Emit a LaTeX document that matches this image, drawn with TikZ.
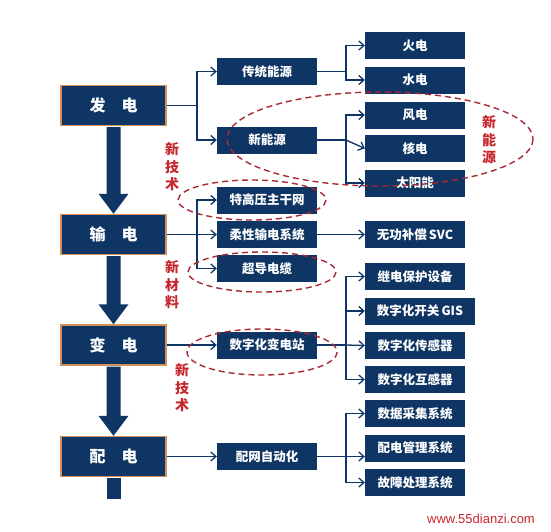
\documentclass[tikz,border=0pt]{standalone}
\usepackage{fontspec}
\newfontfamily\cjk{Noto Sans CJK SC}
\newfontfamily\markfont{Liberation Sans}
\usetikzlibrary{arrows.meta,positioning,calc}
\definecolor{gridNavy}{HTML}{0E3564}
\definecolor{gridEdge}{HTML}{D2915A}
\definecolor{gridRed}{HTML}{C8262C}
\definecolor{gridDash}{HTML}{A82A34}
\tikzset{
  % The four stages on the left, with the orange rim.
  grid/stage/.style={
    fill=gridNavy, draw=gridEdge, line width=1.4pt, inner sep=0pt,
    minimum width=105pt, minimum height=40pt, text=white,
    font=\cjk\bfseries\fontsize{16}{16}\selectfont
  },
  % Plain dark boxes for the parts of each stage.
  grid/box/.style={
    fill=gridNavy, inner sep=0pt, minimum width=100pt, minimum height=27pt,
    text=white, font=\cjk\bfseries\fontsize{12.5}{12.5}\selectfont
  },
  % Thin branch arrows.
  grid/arrow/.style={
    -{Straight Barb[length=5pt,width=9pt]}, draw=gridNavy, line width=1.3pt
  },
  % Red dashed rings round what is new.
  grid/ring/.style={
    draw=gridDash, dash pattern=on 6pt off 4pt, line width=1.4pt
  },
  % Red vertical tags.
  grid/tag/.style={
    text=gridRed, inner sep=0pt, align=center,
    font=\cjk\bfseries\fontsize{14}{17.5}\selectfont
  },
}
\newcommand{\stagearrow}[2]{%
  \fill[gridNavy] ($(#1.south)+(-7,1)$) -- ($(#2.north)+(-7,-20)$)
    -- ($(#2.north)+(-15,-20)$) -- (#2.north) -- ($(#2.north)+(15,-20)$)
    -- ($(#2.north)+(7,-20)$) -- ($(#1.south)+(7,1)$) -- cycle;}

\begin{document}
\begin{tikzpicture}[x=1pt,y=-1pt]
  \useasboundingbox[fill=white] (0,0) rectangle (551,531);
  % stages
  \node[grid/stage] (fa) at (113.5,105.5) {发\hspace{1em}电};
  \node[grid/stage] (sd) at (113.5,234.5) {输\hspace{1em}电};
  \node[grid/stage] (bd) at (113.5,345) {变\hspace{1em}电};
  \node[grid/stage] (pd) at (113.5,456.5) {配\hspace{1em}电};
  \stagearrow{fa}{sd}
  \stagearrow{sd}{bd}
  \stagearrow{bd}{pd}
  \fill[gridNavy] ($(pd.south)+(-7,1)$) rectangle ($(pd.south)+(7,22)$);
  % middle column
  \node[grid/box] (ct) at (267,71.5)  {传统能源};
  \node[grid/box] (xn) at (267,140)   {新能源};
  \node[grid/box] (tg) at (267,200)   {特高压主干网};
  \node[grid/box] (rx) at (267,234.5) {柔性输电系统};
  \node[grid/box] (cd) at (267,268.5) {超导电缆};
  \node[grid/box] (sz) at (267,345)   {数字化变电站};
  \node[grid/box] (pw) at (267,456.5) {配网自动化};
  % right column
  \node[grid/box] (hd)  at (415,45.5)  {火电};
  \node[grid/box] (sdn) at (415,80)    {水电};
  \node[grid/box] (fd)  at (415,115)   {风电};
  \node[grid/box] (hed) at (415,148.5) {核电};
  \node[grid/box] (ty)  at (415,183)   {太阳能};
  \node[grid/box] (svc) at (415,234.5) {无功补偿\,SVC};
  \node[grid/box] (jb)  at (415,276.5) {继电保护设备};
  \node[grid/box, minimum width=110pt] (gis) at (420,311) {数字化开关\,GIS};
  \node[grid/box] (cg)  at (415,345.5) {数字化传感器};
  \node[grid/box] (hg)  at (415,379.5) {数字化互感器};
  \node[grid/box] (sj)  at (415,413.5) {数据采集系统};
  \node[grid/box] (pg)  at (415,448)   {配电管理系统};
  \node[grid/box] (gz)  at (415,482.5) {故障处理系统};
  % branch points
  \coordinate (j1) at (197,0);
  \coordinate (j2) at (346,0);
  \draw[grid/arrow] (fa.east) -- (fa.east -| j1) |- (ct.west);
  \draw[grid/arrow] (fa.east -| j1) |- (xn.west);
  \draw[grid/arrow] (ct.east) -- (ct.east -| j2) |- (hd.west);
  \draw[grid/arrow] (ct.east -| j2) |- (sdn.west);
  \draw[grid/arrow] (xn.east) -- (xn.east -| j2) |- (fd.west);
  \draw[grid/arrow] (xn.east -| j2) -- (hed.west);
  \draw[grid/arrow] (xn.east -| j2) |- (ty.west);
  \draw[grid/arrow] (sd.east) -- (sd.east -| j1) |- (tg.west);
  \draw[grid/arrow] (sd.east -| j1) -- (rx.west);
  \draw[grid/arrow] (sd.east -| j1) |- (cd.west);
  \draw[grid/arrow] (rx) -- (svc);
  \draw[grid/arrow] (bd.east |- sz.west) -- (sz.west);
  \draw[grid/arrow] (sz.east) -- (sz.east -| j2) |- (jb.west);
  \draw[grid/arrow] (sz.east -| j2) |- (gis.west);
  \draw[grid/arrow] (sz.east -| j2) -- (cg.west);
  \draw[grid/arrow] (sz.east -| j2) |- (hg.west);
  \draw[grid/arrow] (pd.east) -- (pw.west);
  \draw[grid/arrow] (pw.east) -- (pw.east -| j2) |- (sj.west);
  \draw[grid/arrow] (pw.east -| j2) -- (pg.west |- pw.east);
  \draw[grid/arrow] (pw.east -| j2) |- (gz.west);
  % rings and tags
  \draw[grid/ring] (380,139) ellipse [x radius=153, y radius=47];
  \draw[grid/ring] (252,200) ellipse [x radius=74, y radius=20];
  \draw[grid/ring] (262,272) ellipse [x radius=74, y radius=20];
  \draw[grid/ring] (262,352) ellipse [x radius=75, y radius=23];
  \node[grid/tag] (t1) at (172,167) {新\\技\\术};
  \node[grid/tag] (t2) at (172,285) {新\\材\\料};
  \node[grid/tag] (t3) at (182,388) {新\\技\\术};
  \node[grid/tag] (t4) at (489,140) {新\\能\\源};
  \node[text=gridRed, font=\markfont\fontsize{13}{13}\selectfont, inner sep=0pt] (wm) at (481,519) {www.55dianzi.com};
\end{tikzpicture}
\end{document}
